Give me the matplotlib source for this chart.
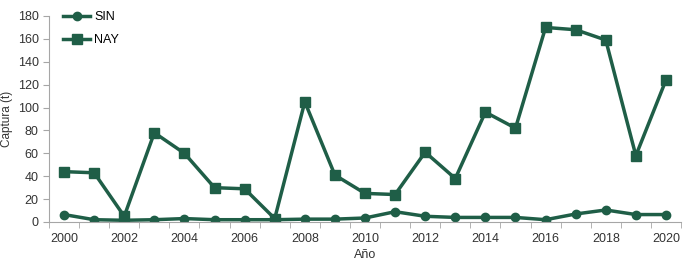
import numpy as np
import matplotlib.pyplot as plt

plt.rcParams['font.family'] = ['Liberation Sans', 'DejaVu Sans']

years = list(range(2000, 2021))
sin = [6.5, 2, 1.5, 2, 3, 2, 2, 2, 2.5, 2.5, 3.5, 9, 5, 4, 4, 4, 2, 7, 10.5, 6.5, 6.5]
nay = [44, 43, 5, 78, 60, 30, 29, 3, 105, 41, 25, 24, 61, 38, 96, 82, 170, 168, 159, 58, 124]

color = '#1f5e47'
axis_gray = '#a6a6a6'

fig = plt.figure(figsize=(6.91, 2.6), dpi=100)
ax = fig.add_axes([49/691, 38/260, 632/691, 206/260])

x = np.arange(len(years))
ax.plot(x, sin, color=color, lw=2.5, marker='o', ms=6, label='SIN')
ax.plot(x, nay, color=color, lw=2.5, marker='s', ms=6.5, label='NAY')

ax.set_xlim(-0.5, len(years) - 0.5)
ax.set_ylim(0, 180)
ax.set_yticks(range(0, 181, 20))
ax.set_xticks(x[::2])
ax.set_xticklabels([str(y) for y in years[::2]])
ax.set_xticks(np.arange(-0.5, len(years), 1), minor=True)
ax.tick_params(axis='x', which='major', length=0, pad=8, labelsize=9, colors='#333333')
ax.tick_params(axis='x', which='minor', length=4, color=axis_gray, direction='out')
ax.tick_params(axis='y', length=4, color=axis_gray, labelsize=9, labelcolor='#333333')

for s in ['top', 'right']:
    ax.spines[s].set_visible(False)
ax.spines['left'].set_color(axis_gray)
ax.spines['bottom'].set_color(axis_gray)

ax.set_xlabel('Año', fontsize=9, color='#333333', labelpad=3)
ax.set_ylabel('Captura (t)', fontsize=8.5, color='#333333', labelpad=3)

ax.legend(loc='upper left', bbox_to_anchor=(0.01, 1.06), frameon=False, fontsize=9,
          handlelength=2.2, handletextpad=0.3, labelspacing=0.9, borderaxespad=0.2)

fig.savefig('out.png', dpi=100)
